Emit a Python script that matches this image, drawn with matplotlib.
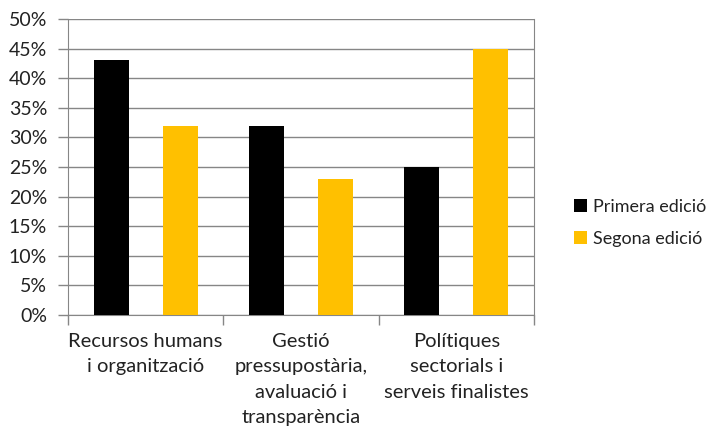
import numpy as np
import matplotlib.pyplot as plt
from matplotlib.ticker import PercentFormatter, FixedLocator

plt.rcParams['font.family'] = ['Lato', 'DejaVu Sans']

categories = ['Recursos humans\ni organització',
              'Gestió\npressupostària,\navaluació i\ntransparència',
              'Polítiques\nsectorials i\nserveis finalistes']
primera = [43, 32, 25]
segona = [32, 23, 45]
series_names = ['Primera edició', 'Segona edició']

fig = plt.figure(figsize=(7.10, 4.32), dpi=100)
ax = fig.add_axes([68/710, 1 - 315/432, (534 - 68)/710, (315 - 19)/432])

x = np.arange(len(categories))
w = 0.225
off = 0.223
ax.bar(x - off, primera, w, color='black', label=series_names[0], zorder=3)
ax.bar(x + off, segona, w, color='#FFC000', label=series_names[1], zorder=3)

ax.set_xlim(-0.5, len(categories) - 0.5)
ax.set_ylim(0, 50)
ax.set_yticks(np.arange(0, 51, 5))
ax.yaxis.set_major_formatter(PercentFormatter(decimals=0))
ax.grid(axis='y', color='#868686', linewidth=1, zorder=0)

ax.set_xticks(x)
ax.set_xticklabels(categories, fontsize=14.5, color='#222222', linespacing=1.6, va='top')
ax.tick_params(axis='x', which='major', length=0, pad=13)
ax.xaxis.set_minor_locator(FixedLocator(np.arange(-0.5, len(categories), 1)))
ax.tick_params(axis='x', which='minor', length=7, color='#868686', width=1)
ax.tick_params(axis='y', length=7, color='#868686', width=1, labelsize=14,
               labelcolor='#222222', pad=8)

for s in ['top']:
    ax.spines[s].set_visible(False)
for s in ['left', 'right', 'bottom']:
    ax.spines[s].set_color('#868686')

fig.legend(loc='center left', bbox_to_anchor=(558/710, 1 - 223/432), frameon=False,
           fontsize=13, handlelength=0.7, handleheight=0.7, handletextpad=0.35,
           labelspacing=0.9, labelcolor='#222222')

fig.savefig('out.png', dpi=100)
